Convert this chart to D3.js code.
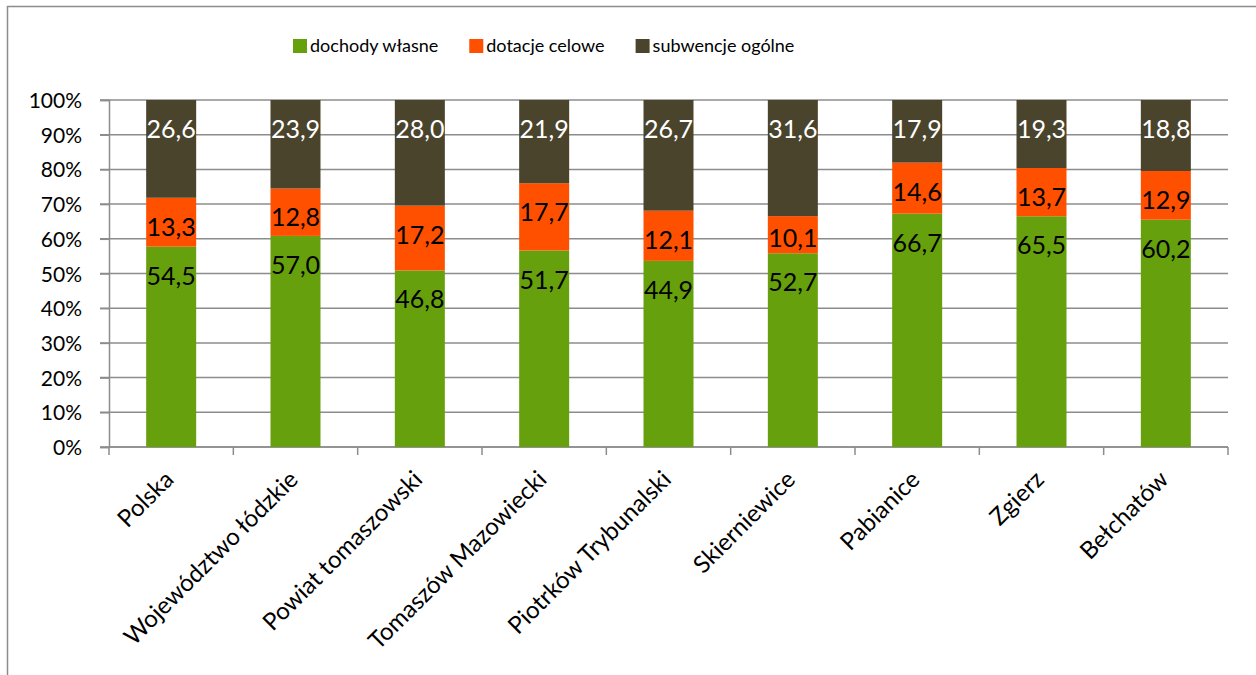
<!DOCTYPE html>
<html>
<head>
<meta charset="utf-8">
<script src="https://cdn.jsdelivr.net/npm/d3@7"></script>
<style>
  body { margin: 0; background: #fff; }
  text { font-family: Lato, "Open Sans", sans-serif; }
</style>
</head>
<body>
<svg id="chart"></svg>
<script>
// Data
const categories = ["Polska", "Województwo łódzkie", "Powiat tomaszowski", "Tomaszów Mazowiecki",
  "Piotrków Trybunalski", "Skierniewice", "Pabianice", "Zgierz", "Bełchatów"];
const seriesNames = ["dochody własne", "dotacje celowe", "subwencje ogólne"];
const dochody = [54.5, 57.0, 46.8, 51.7, 44.9, 52.7, 66.7, 65.5, 60.2];
const dotacje = [13.3, 12.8, 17.2, 17.7, 12.1, 10.1, 14.6, 13.7, 12.9];
const subwencje = [26.6, 23.9, 28.0, 21.9, 26.7, 31.6, 17.9, 19.3, 18.8];
const yTicks = [0, 0.1, 0.2, 0.3, 0.4, 0.5, 0.6, 0.7, 0.8, 0.9, 1];

const colors = ["#66a00c", "#ff5000", "#4a442d"];
const labelColors = ["#000", "#000", "#fff"];

const width = 1256, height = 675;
const margin = {top: 100, bottom: 228, left: 109, right: 28};

const svg = d3.select("#chart")
  .attr("width", width)
  .attr("height", height);

// outer frame
svg.append("path")
  .attr("d", `M7.5,${height} V6.5 H${width}`)
  .attr("fill", "none")
  .attr("stroke", "#8c8c8c")
  .attr("stroke-width", 1.5);

// build rows and normalise to 100%
const rows = categories.map((c, i) => {
  const vals = [dochody[i], dotacje[i], subwencje[i]];
  const total = d3.sum(vals);
  const row = {category: c, raw: vals};
  seriesNames.forEach((s, j) => row[s] = vals[j] / total);
  return row;
});
const stacked = d3.stack().keys(seriesNames)(rows);

const xScale = d3.scaleBand()
  .domain(categories)
  .range([margin.left, width - margin.right])
  .paddingInner(0)
  .paddingOuter(0);

const yScale = d3.scaleLinear()
  .domain([0, 1])
  .range([height - margin.bottom, margin.top]);

// gridlines
svg.append("g")
  .selectAll("line")
  .data(yTicks)
  .enter().append("line")
  .attr("x1", margin.left - 9)
  .attr("x2", width - margin.right)
  .attr("y1", d => yScale(d))
  .attr("y2", d => yScale(d))
  .attr("stroke", "#8c8c8c")
  .attr("stroke-width", 1.5);

// y axis
const yAxis = svg.append("g")
  .attr("transform", `translate(${margin.left}, 0)`)
  .call(d3.axisLeft(yScale).tickValues(yTicks).tickFormat(d3.format(".0%")).tickSize(9).tickPadding(18));
yAxis.select(".domain").attr("stroke", "#8c8c8c").attr("stroke-width", 1.5);
yAxis.selectAll(".tick line").attr("stroke", "#8c8c8c").attr("stroke-width", 1.5);
yAxis.selectAll("text")
  .style("font-size", "21px")
  .style("font-family", "Lato, sans-serif")
  .attr("fill", "#000")
  .attr("dy", "0.36em");

// x axis (ticks at band boundaries)
const xAxisG = svg.append("g");
const boundaries = categories.map(c => xScale(c)).concat([width - margin.right]);
xAxisG.append("line")
  .attr("x1", margin.left).attr("x2", width - margin.right)
  .attr("y1", yScale(0)).attr("y2", yScale(0))
  .attr("stroke", "#8c8c8c").attr("stroke-width", 1.5);
xAxisG.selectAll(".xtick")
  .data(boundaries)
  .enter().append("line")
  .attr("x1", d => d).attr("x2", d => d)
  .attr("y1", yScale(0)).attr("y2", yScale(0) + 8)
  .attr("stroke", "#8c8c8c").attr("stroke-width", 1.5);

const barWidth = 50;

// bars
const layers = svg.selectAll(".layer")
  .data(stacked)
  .enter().append("g")
  .attr("class", "layer")
  .attr("fill", (d, i) => colors[i]);

layers.selectAll("rect")
  .data(d => d)
  .enter().append("rect")
  .attr("x", d => xScale(d.data.category) + (xScale.bandwidth() - barWidth) / 2)
  .attr("y", d => yScale(d[1]))
  .attr("width", barWidth)
  .attr("height", d => yScale(d[0]) - yScale(d[1]));

// data labels
stacked.forEach((layer, i) => {
  svg.append("g").selectAll("text")
    .data(layer)
    .enter().append("text")
    .attr("x", d => xScale(d.data.category) + xScale.bandwidth() / 2)
    .attr("y", d => {
      const top = yScale(d[1]);
      const h = yScale(d[0]) - top;
      return top + Math.min(29, h * 0.6);
    })
    .attr("dy", "0.36em")
    .attr("text-anchor", "middle")
    .attr("fill", labelColors[i])
    .style("font-size", "25px")
    .text(d => d3.format(".1f")(d.data.raw[i]).replace(".", ","));
});

// category labels
svg.append("g").selectAll("text")
  .data(categories)
  .enter().append("text")
  .attr("transform", d => `translate(${xScale(d) + xScale.bandwidth() / 2 + 4}, 481) rotate(-45)`)
  .attr("text-anchor", "end")
  .style("font-size", "24px")
  .attr("fill", "#000")
  .text(d => d);

// legend
const legend = svg.append("g");
let lx = 293;
seriesNames.forEach((s, i) => {
  legend.append("rect")
    .attr("x", lx).attr("y", 39)
    .attr("width", 14).attr("height", 14)
    .attr("fill", colors[i]);
  const t = legend.append("text")
    .attr("x", lx + 17).attr("y", 46)
    .attr("dy", "0.36em")
    .style("font-size", "18px")
    .attr("fill", "#000")
    .text(s);
  lx += 17 + t.node().getComputedTextLength() + 31;
});
</script>
</body>
</html>
